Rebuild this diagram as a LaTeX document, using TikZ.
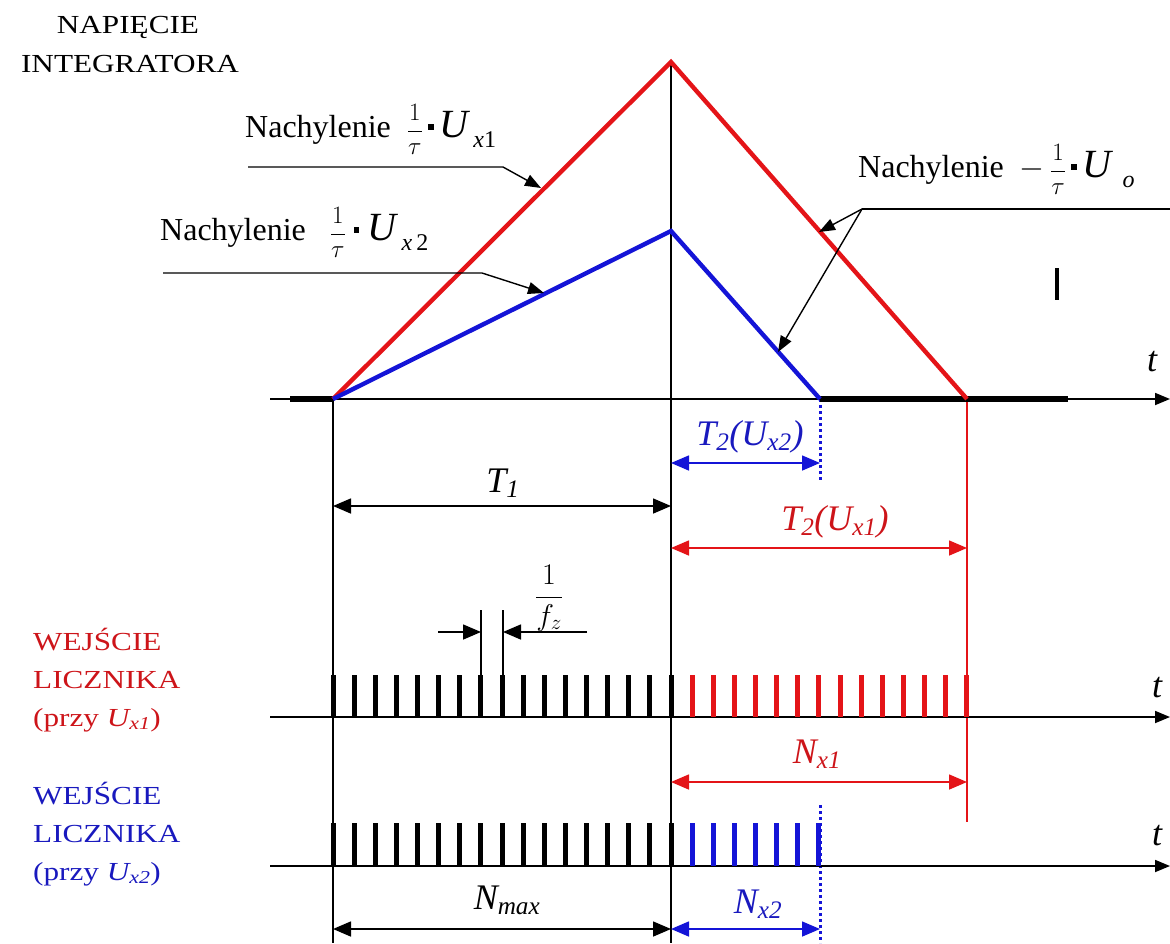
\documentclass[tikz,border=0pt]{standalone}
\usepackage{fix-cm}
\usepackage{fontspec}
\setmainfont{Liberation Serif}
\newfontfamily\widefont[FakeStretch=1.2]{Liberation Serif}
\usetikzlibrary{arrows.meta}
\definecolor{lred}{RGB}{228,20,24}
\definecolor{lblue}{RGB}{20,20,215}
\definecolor{tred}{RGB}{205,20,25}
\definecolor{tblue}{RGB}{25,25,190}
\newcommand\sqdot{\rule[0.22em]{0.18em}{0.18em}}
\newcommand\Ubig[1]{{\fontsize{40}{40}\selectfont\itshape U}\,\raisebox{-10pt}{\fontsize{24}{24}\selectfont #1}}
\newcommand\fractau{{\fontsize{25}{25}\selectfont$\displaystyle\frac{1}{\tau}$}}
\begin{document}
\begin{tikzpicture}[x=1pt,y=-1pt,
  ax/.style={line width=1.8pt,-{Triangle[length=15pt,width=12pt]}},
  guide/.style={line width=1.6pt},
  thickseg/.style={line width=6pt},
  redline/.style={lred,line width=4.4pt},
  blueline/.style={lblue,line width=4.4pt},
  dimarr/.style={line width=1.6pt,{Triangle[length=18pt,width=15pt]}-{Triangle[length=18pt,width=15pt]}},
  onearr/.style={line width=1.6pt,-{Triangle[length=18pt,width=15pt]}},
  leadarr/.style={line width=1.4pt,-{Triangle[length=16pt,width=12pt]}},
  pulse/.style={line width=5pt},
  dotv/.style={lblue,line width=3pt,dash pattern=on 3pt off 3pt},
  ital/.style={font=\fontsize{36}{40}\selectfont\itshape,inner sep=0pt},
  slope/.style={font=\fontsize{32}{36}\selectfont,inner sep=0pt},
  caps/.style={font=\widefont\fontsize{26}{30}\selectfont,inner sep=0pt}
]
\useasboundingbox (0,0) rectangle (1170,943);

% key points
\coordinate (O) at (333,399);
\coordinate (P1) at (671,62);
\coordinate (E1) at (967,399);
\coordinate (P2) at (671,231);
\coordinate (E2) at (820,399);

% guides
\coordinate (Ob) at (333,943);
\coordinate (Pb) at (671,943);
\draw[guide] (P1) -- (Pb);
\draw[guide] (O) -- (Ob);
\coordinate (E1b) at (967,822);
\draw[lred,line width=1.3pt] (E1) -- (E1b);
\coordinate (E2b) at (820,480);
\draw[dotv] (E2) -- (E2b);
\coordinate (E2c) at (820,805);
\coordinate (E2d) at (820,943);
\draw[dotv] (E2c) -- (E2d);

% top axis
\coordinate (axL) at (270,399);
\coordinate (axR) at (1170,399);
\draw[ax] (axL) -- (axR);
\coordinate (th1) at (290,399);
\coordinate (th2) at (1068,399);
\draw[thickseg] (th1) -- (O);
\draw[thickseg] (E2) -- (th2);

% integrator ramps
\draw[redline] (O) -- (P1) -- (E1);
\draw[blueline] (O) -- (P2) -- (E2);

% small bar
\coordinate (b1) at (1057,268);
\coordinate (b2) at (1057,300);
\draw[line width=3.5pt] (b1) -- (b2);

% titles
\node[caps,anchor=base] (tA) at (128,33) {NAPIĘCIE};
\node[caps,anchor=base] (tB) at (130,72) {INTEGRATORA};

% slope labels
\node[slope,anchor=base west] (s1) at (245,137) {Nachylenie\ \ \fractau\,\sqdot\,\Ubig{\itshape x\upshape 1}};
\node[slope,anchor=base west] (s2) at (160,240) {Nachylenie\ \ \ \fractau\ \sqdot\ \Ubig{\itshape x\upshape\,2}};
\node[slope,anchor=base west] (s3) at (858,177) {Nachylenie\ \ $-$\,\fractau\,\sqdot\,\Ubig{\ \itshape o}};

% leaders
\coordinate (l1a) at (248,167);
\coordinate (l1b) at (503,167);
\coordinate (l1c) at (541,188);
\draw[leadarr] (l1a) -- (l1b) -- (l1c);
\coordinate (l2a) at (163,273);
\coordinate (l2b) at (482,273);
\coordinate (l2c) at (544,293);
\draw[leadarr] (l2a) -- (l2b) -- (l2c);
\coordinate (l3a) at (1170,209);
\coordinate (l3b) at (862,209);
\coordinate (l3c) at (819,232);
\coordinate (l3d) at (778,352);
\draw[line width=1.4pt] (l3a) -- (l3b);
\draw[leadarr] (l3b) -- (l3c);
\draw[leadarr] (l3b) -- (l3d);

% t labels
\node[ital] (t1) at (1152,362) {t};
\node[ital] (t2) at (1157,688) {t};
\node[ital] (t3) at (1157,836) {t};

% time dimension arrows
\coordinate (d1a) at (333,506); \coordinate (d1b) at (671,506);
\draw[dimarr] (d1a) -- (d1b);
\node[ital,anchor=base] (T1) at (503,492) {T\textsubscript{1}};
\coordinate (d2a) at (671,463); \coordinate (d2b) at (820,463);
\draw[dimarr,lblue] (d2a) -- (d2b);
\node[ital,anchor=base,text=tblue] (T2b) at (750,445) {T\textsubscript{2}(U\textsubscript{x2})};
\coordinate (d3a) at (671,548); \coordinate (d3b) at (967,548);
\draw[dimarr,lred] (d3a) -- (d3b);
\node[ital,anchor=base,text=tred] (T2r) at (835,530) {T\textsubscript{2}(U\textsubscript{x1})};

% 1/fz
\coordinate (f1a) at (481,610); \coordinate (f1b) at (481,717);
\coordinate (f2a) at (503,610); \coordinate (f2b) at (503,717);
\draw[guide] (f1a) -- (f1b);
\draw[guide] (f2a) -- (f2b);
\coordinate (fa) at (438,632); \coordinate (fb) at (587,632);
\draw[onearr] (fa) -- (f1a |- fa);
\draw[onearr] (fb) -- (f2a |- fb);
\node[inner sep=0pt,font=\fontsize{30}{34}\selectfont] (fz) at (549,598) {$\displaystyle\frac{1}{f_z}$};

% pulse axes
\coordinate (p1L) at (270,717); \coordinate (p1R) at (1170,717);
\coordinate (p2L) at (270,866); \coordinate (p2R) at (1170,866);
\draw[ax] (p1L) -- (p1R);
\draw[ax] (p2L) -- (p2R);

% pulses row 1
\foreach \k in {0,...,16} \draw[pulse] ({333+21.125*\k},717) -- ++(0,-42);
\foreach \k in {1,...,14} \draw[pulse,lred] ({671+21.125*\k},717) -- ++(0,-42);
% pulses row 2
\foreach \k in {0,...,16} \draw[pulse] ({333+21.125*\k},866) -- ++(0,-43);
\foreach \k in {1,...,7} \draw[pulse,lblue] ({671+21.125*\k},866) -- ++(0,-43);

% count dimension arrows
\coordinate (n1a) at (671,782); \coordinate (n1b) at (967,782);
\draw[dimarr,lred] (n1a) -- (n1b);
\node[ital,anchor=base,text=tred] (Nx1) at (817,763) {N\textsubscript{x1}};
\coordinate (n2a) at (333,929); \coordinate (n2b) at (671,929);
\draw[dimarr] (n2a) -- (n2b);
\node[ital,anchor=base] (Nmax) at (507,909) {N\textsubscript{max}};
\coordinate (n3a) at (671,929); \coordinate (n3b) at (820,929);
\draw[dimarr,lblue] (n3a) -- (n3b);
\node[ital,anchor=base,text=tblue] (Nx2) at (758,913) {N\textsubscript{x2}};

% left labels
\node[caps,anchor=base west,text=tred] (r1) at (33,650) {WEJŚCIE};
\node[caps,anchor=base west,text=tred] (r2) at (33,688) {LICZNIKA};
\node[caps,anchor=base west,text=tred] (r3) at (33,726) {(przy \textit{U\textsubscript{x1}})};
\node[caps,anchor=base west,text=tblue] (b1l) at (33,804) {WEJŚCIE};
\node[caps,anchor=base west,text=tblue] (b2l) at (33,842) {LICZNIKA};
\node[caps,anchor=base west,text=tblue] (b3l) at (33,880) {(przy \textit{U\textsubscript{x2}})};
\end{tikzpicture}
\end{document}
